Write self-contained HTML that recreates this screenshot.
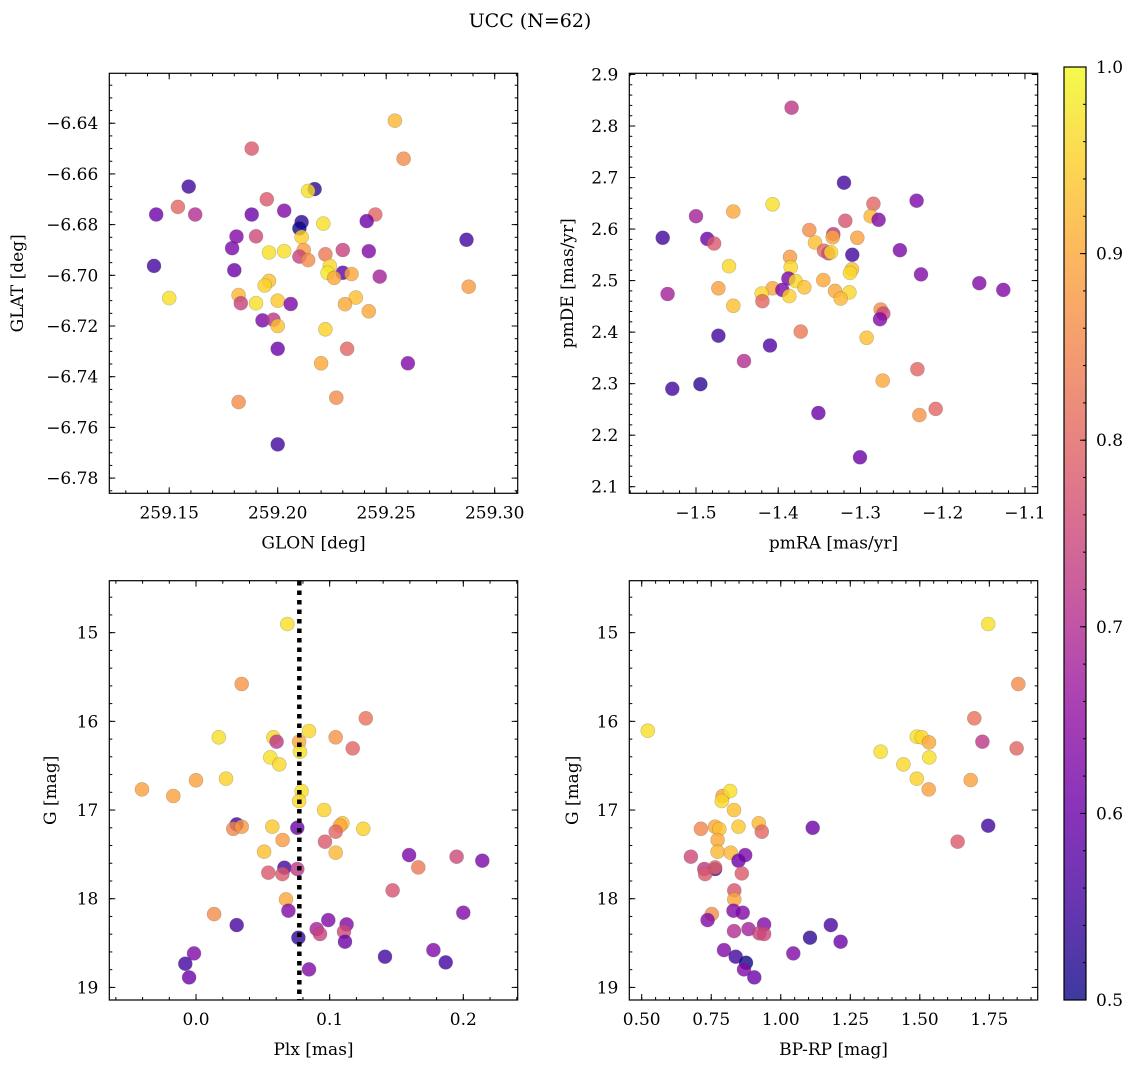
<!DOCTYPE html>
<html><head><meta charset="utf-8"><style>
html,body{margin:0;padding:0;background:#fff;}
svg{display:block;font-family:"DejaVu Serif","Liberation Serif",serif;}
</style></head><body>
<svg id="fig" width="1136" height="1067" viewBox="0 0 1136 1067" xmlns="http://www.w3.org/2000/svg">
<rect width="1136" height="1067" fill="#fff"/>
<text x="530" y="27" font-size="19" text-anchor="middle">UCC (N=62)</text>
<defs>
<linearGradient id="cbgrad" x1="0" y1="1" x2="0" y2="0">
<stop offset="0" stop-color="#0d0887"/><stop offset="0.1" stop-color="#41049d"/><stop offset="0.2" stop-color="#6a00a8"/><stop offset="0.3" stop-color="#8f0da4"/><stop offset="0.4" stop-color="#b12a90"/><stop offset="0.5" stop-color="#cc4778"/><stop offset="0.6" stop-color="#e16462"/><stop offset="0.7" stop-color="#f2844b"/><stop offset="0.8" stop-color="#fca636"/><stop offset="0.9" stop-color="#fcce25"/><stop offset="1" stop-color="#f0f921"/>
</linearGradient>
</defs>
</svg>
<script>
// ---- Top-left: GLON / GLAT ----
const tlLon=[259.254,259.258,259.188,259.159,259.217,259.214,259.154,259.144,259.162,259.188,259.195,259.203,259.245,259.241,259.221,259.211,259.210,259.211,259.181,259.190,259.287,259.179,259.196,259.203,259.212,259.210,259.214,259.222,259.230,259.242,259.143,259.180,259.224,259.223,259.230,259.226,259.234,259.247,259.196,259.194,259.288,259.150,259.182,259.183,259.190,259.200,259.206,259.236,259.231,259.242,259.193,259.198,259.200,259.222,259.200,259.232,259.220,259.260,259.182,259.227,259.200];
const tlLat=[-6.639,-6.654,-6.650,-6.665,-6.666,-6.6667,-6.673,-6.676,-6.676,-6.676,-6.670,-6.6745,-6.676,-6.6786,-6.6796,-6.679,-6.6815,-6.6849,-6.6847,-6.6846,-6.686,-6.6893,-6.691,-6.6905,-6.690,-6.6926,-6.694,-6.6917,-6.690,-6.6905,-6.6963,-6.698,-6.6963,-6.699,-6.699,-6.701,-6.6995,-6.7005,-6.7022,-6.704,-6.7045,-6.709,-6.7078,-6.711,-6.711,-6.710,-6.7113,-6.7088,-6.7114,-6.7142,-6.7178,-6.7175,-6.720,-6.7213,-6.729,-6.729,-6.7347,-6.7347,-6.750,-6.7483,-6.7667];
const tlProb=[0.92,0.86,0.78,0.55,0.53,0.97,0.80,0.60,0.70,0.60,0.78,0.63,0.80,0.60,0.97,0.53,0.50,0.95,0.63,0.75,0.55,0.62,0.97,0.97,0.88,0.74,0.86,0.83,0.74,0.63,0.55,0.60,0.96,0.98,0.58,0.90,0.90,0.68,0.93,0.95,0.88,0.97,0.92,0.74,0.97,0.94,0.62,0.93,0.90,0.90,0.62,0.72,0.93,0.95,0.60,0.80,0.90,0.63,0.86,0.86,0.55];
const tlXTicks=[259.15,259.20,259.25,259.30];
const tlXLabels=["259.15","259.20","259.25","259.30"];
const tlYTicks=[-6.64,-6.66,-6.68,-6.70,-6.72,-6.74,-6.76,-6.78];
const tlYLabels=["−6.64","−6.66","−6.68","−6.70","−6.72","−6.74","−6.76","−6.78"];

// ---- Top-right: pmRA / pmDE ----
const trRA=[-1.3837,-1.32,-1.2317,-1.4068,-1.4546,-1.5,-1.2843,-1.2876,-1.278,-1.3184,-1.5405,-1.4862,-1.478,-1.3622,-1.333,-1.3338,-1.3038,-1.3553,-1.3443,-1.339,-1.3358,-1.31,-1.252,-1.3857,-1.4599,-1.3849,-1.3103,-1.3127,-1.2264,-1.3877,-1.3788,-1.3452,-1.1555,-1.1263,-1.5345,-1.4728,-1.4068,-1.395,-1.4201,-1.3683,-1.331,-1.3135,-1.3865,-1.3241,-1.4193,-1.4546,-1.2754,-1.2722,-1.2762,-1.4728,-1.3727,-1.2925,-1.41,-1.4416,-1.2308,-1.273,-1.4947,-1.5288,-1.2085,-1.2284,-1.3512,-1.3006];
const trDE=[2.8356,2.690,2.655,2.648,2.634,2.625,2.649,2.625,2.618,2.616,2.583,2.581,2.572,2.598,2.590,2.584,2.583,2.574,2.558,2.553,2.555,2.550,2.559,2.546,2.528,2.526,2.522,2.515,2.512,2.504,2.499,2.501,2.495,2.482,2.474,2.485,2.485,2.482,2.475,2.487,2.480,2.477,2.470,2.465,2.460,2.451,2.444,2.436,2.425,2.393,2.401,2.389,2.374,2.344,2.328,2.306,2.299,2.290,2.251,2.239,2.243,2.157];
const trProb=[0.72,0.55,0.62,0.97,0.90,0.68,0.80,0.92,0.63,0.77,0.55,0.60,0.78,0.86,0.72,0.90,0.89,0.93,0.80,0.75,0.96,0.55,0.62,0.88,0.96,0.96,0.93,0.96,0.63,0.62,0.96,0.90,0.63,0.63,0.68,0.89,0.90,0.62,0.96,0.93,0.90,0.96,0.95,0.92,0.80,0.93,0.86,0.75,0.63,0.55,0.83,0.93,0.57,0.70,0.80,0.90,0.53,0.55,0.80,0.87,0.60,0.60];
const trXTicks=[-1.5,-1.4,-1.3,-1.2,-1.1];
const trXLabels=["−1.5","−1.4","−1.3","−1.2","−1.1"];
const trYTicks=[2.1,2.2,2.3,2.4,2.5,2.6,2.7,2.8,2.9];
const trYLabels=["2.1","2.2","2.3","2.4","2.5","2.6","2.7","2.8","2.9"];

// ---- Bottom-left: Plx / G ----
const blPlx=[0.0683,0.0342,0.127,0.017,0.0579,0.0603,0.0845,0.0771,0.0778,0.1045,0.1172,0.0556,0.0623,-0.0404,-0.017,0.0,0.0224,0.079,0.0771,0.0958,0.0304,0.0279,0.0342,0.0571,0.0758,0.1095,0.1077,0.1045,0.1252,0.0648,0.0965,0.0509,0.1045,0.1594,0.195,0.2142,0.1663,0.0661,0.0758,0.0541,0.0646,0.1471,0.0673,0.0691,0.0135,0.2,0.0304,0.099,0.1127,0.0903,0.0928,0.1107,0.1115,0.0766,-0.0015,-0.008,-0.0052,0.1414,0.1776,0.1868,0.0845];
const blG=[14.902,15.579,15.966,16.18,16.18,16.229,16.109,16.229,16.342,16.18,16.305,16.406,16.485,16.767,16.842,16.665,16.647,16.786,16.898,17.0,17.162,17.211,17.188,17.188,17.2,17.15,17.177,17.244,17.211,17.338,17.357,17.47,17.481,17.508,17.526,17.571,17.647,17.65,17.665,17.707,17.722,17.906,18.008,18.135,18.173,18.158,18.297,18.241,18.289,18.342,18.398,18.372,18.485,18.44,18.617,18.733,18.887,18.654,18.579,18.718,18.797];
const blProb=[0.97,0.87,0.82,0.97,0.96,0.72,0.96,0.90,0.97,0.87,0.80,0.97,0.96,0.89,0.89,0.89,0.95,0.97,0.96,0.95,0.55,0.85,0.88,0.94,0.60,0.93,0.90,0.80,0.95,0.88,0.78,0.93,0.92,0.62,0.75,0.62,0.83,0.55,0.72,0.78,0.78,0.77,0.90,0.63,0.86,0.63,0.56,0.63,0.63,0.68,0.74,0.75,0.60,0.53,0.63,0.55,0.60,0.55,0.63,0.55,0.63];
const blPlxMean=[0.0773];
const blXTicks=[0.0,0.1,0.2];
const blXLabels=["0.0","0.1","0.2"];
const gTicks=[15,16,17,18,19];
const gLabels=["15","16","17","18","19"];

// ---- Bottom-right: BP-RP / G ----
const brBPRP=[1.746,1.854,1.696,0.522,1.489,1.507,1.533,1.725,1.848,1.359,1.534,1.441,1.489,1.532,1.683,0.791,0.818,0.788,0.832,1.746,1.115,0.713,0.764,0.779,0.848,0.921,0.932,0.773,1.636,0.773,0.82,0.872,0.677,0.848,0.725,0.764,0.764,0.728,0.86,0.833,0.833,0.83,0.752,0.863,0.737,0.94,1.18,0.884,0.832,0.923,0.94,1.105,1.215,0.796,1.045,0.838,0.875,0.868,0.905];
const brG=[14.902,15.579,15.966,16.105,16.173,16.18,16.237,16.229,16.305,16.342,16.406,16.485,16.647,16.767,16.662,16.842,16.786,16.898,17.0,17.177,17.2,17.211,17.188,17.215,17.188,17.15,17.244,17.338,17.357,17.47,17.481,17.508,17.526,17.571,17.665,17.665,17.647,17.722,17.714,17.906,18.008,18.135,18.173,18.158,18.241,18.289,18.297,18.342,18.365,18.39,18.398,18.44,18.485,18.579,18.617,18.654,18.722,18.797,18.887];
const brProb=[0.97,0.86,0.82,0.97,0.97,0.96,0.90,0.72,0.80,0.97,0.97,0.96,0.95,0.89,0.89,0.89,0.97,0.96,0.93,0.55,0.60,0.85,0.90,0.93,0.94,0.92,0.80,0.90,0.78,0.92,0.92,0.62,0.75,0.60,0.72,0.55,0.80,0.78,0.78,0.77,0.90,0.63,0.86,0.63,0.63,0.63,0.56,0.68,0.70,0.74,0.75,0.53,0.60,0.63,0.63,0.55,0.50,0.63,0.60];
const brXTicks=[0.50,0.75,1.00,1.25,1.50,1.75];
const brXLabels=["0.50","0.75","1.00","1.25","1.50","1.75"];

const cbTicks=[0.5,0.6,0.7,0.8,0.9,1.0];
const cbLabels=["0.5","0.6","0.7","0.8","0.9","1.0"];

const NS="http://www.w3.org/2000/svg";
const svg=document.getElementById('fig');
function mk(tag,attrs,parent){const e=document.createElementNS(NS,tag);for(const k in attrs)e.setAttribute(k,attrs[k]);(parent||svg).appendChild(e);return e;}

const STOPS=["#0d0887","#41049d","#6a00a8","#8f0da4","#b12a90","#cc4778","#e16462","#f2844b","#fca636","#fcce25","#f0f921"];
function hex(h){return [parseInt(h.substr(1,2),16),parseInt(h.substr(3,2),16),parseInt(h.substr(5,2),16)];}
function plasma(p){let t=(p-0.5)/0.5;t=Math.max(0,Math.min(1,t));const f=t*10;const i=Math.min(9,Math.floor(f));const r=f-i;const a=hex(STOPS[i]),b=hex(STOPS[i+1]);return "rgb("+a.map((v,k)=>Math.round(v+(b[k]-v)*r)).join(",")+")";}

const TFS=17, AFS=17;
function panel(name,box,xd,yd,xs,ys,probs,xT,xL,yT,yL,xMinor,yMinor,xTitle,yTitle,yTitleX,yInvert){
  const g=mk('g',{});
  
  
  const sx=v=>box.x0+(v-xd[0])/(xd[1]-xd[0])*(box.x1-box.x0);
  const sy=yInvert?(v=>box.y0+(v-yd[1])/(yd[0]-yd[1])*(box.y1-box.y0)):(v=>box.y1-(v-yd[0])/(yd[1]-yd[0])*(box.y1-box.y0));
  const pg=mk('g',{},g);
  
  
  for(let i=0;i<xs.length;i++){
    const c=mk('circle',{cx:sx(xs[i]).toFixed(1),cy:sy(ys[i]).toFixed(1),r:7,fill:plasma(probs[i]),'fill-opacity':0.8,stroke:'#555','stroke-opacity':0.35,'stroke-width':0.6},pg);
    
    
  }
  const fr=mk('rect',{x:box.x0,y:box.y0,width:box.x1-box.x0,height:box.y1-box.y0,fill:'none',stroke:'#000','stroke-width':1.2},g);
  
  
  const tk=mk('g',{stroke:'#000','stroke-width':1},g);
  
  
  const lo=Math.min(xd[0],xd[1]),hi=Math.max(xd[0],xd[1]);
  for(let k=Math.ceil(lo/xMinor-1e-6);k<=Math.floor(hi/xMinor+1e-6);k++){const x=sx(k*xMinor);mk('line',{x1:x,x2:x,y1:box.y1,y2:box.y1-3},tk);mk('line',{x1:x,x2:x,y1:box.y0,y2:box.y0+3},tk);}
  for(let k=Math.ceil(Math.min(yd[0],yd[1])/yMinor-1e-6);k<=Math.floor(Math.max(yd[0],yd[1])/yMinor+1e-6);k++){const y=sy(k*yMinor);mk('line',{x1:box.x0,x2:box.x0+3,y1:y,y2:y},tk);mk('line',{x1:box.x1,x2:box.x1-3,y1:y,y2:y},tk);}
  xT.forEach((v,i)=>{const x=sx(v);mk('line',{x1:x,x2:x,y1:box.y1,y2:box.y1-6},tk);mk('line',{x1:x,x2:x,y1:box.y0,y2:box.y0+6},tk);
    const t=mk('text',{x:x,y:box.y1+25,'font-size':TFS,'text-anchor':'middle'},g);t.textContent=xL[i];
    
    });
  yT.forEach((v,i)=>{const y=sy(v);mk('line',{x1:box.x0,x2:box.x0+6,y1:y,y2:y},tk);mk('line',{x1:box.x1,x2:box.x1-6,y1:y,y2:y},tk);
    const t=mk('text',{x:box.x0-11,y:y+6,'font-size':TFS,'text-anchor':'end'},g);t.textContent=yL[i];
    
    });
  const xt=mk('text',{x:(box.x0+box.x1)/2,y:box.y1+55,'font-size':AFS,'text-anchor':'middle'},g);xt.textContent=xTitle;
  
  
  const cy=(box.y0+box.y1)/2;
  const yt=mk('text',{x:yTitleX,y:cy,'font-size':AFS,'text-anchor':'middle',transform:'rotate(-90 '+yTitleX+' '+cy+')'},g);yt.textContent=yTitle;
  
  
  return {sx,sy,g};
}

panel('glon-glat-panel',{x0:109.3,x1:517.7,y0:73.3,y1:493.3},[259.1224,259.3106],[-6.786,-6.6203],tlLon,tlLat,tlProb,tlXTicks,tlXLabels,tlYTicks,tlYLabels,0.01,0.005,'GLON [deg]','GLAT [deg]',23,false);
panel('pm-panel',{x0:629.3,x1:1037.7,y0:73.3,y1:493.3},[-1.5811,-1.0845],[2.0872,2.9023],trRA,trDE,trProb,trXTicks,trXLabels,trYTicks,trYLabels,0.02,0.02,'pmRA [mas/yr]','pmDE [mas/yr]',573,false);
const bl=panel('plx-g-panel',{x0:109.3,x1:517.7,y0:580.7,y1:1000},[-0.0649,0.2407],[19.142,14.414],blPlx,blG,blProb,blXTicks,blXLabels,gTicks,gLabels,0.02,0.2,'Plx [mas]','G [mag]',56,true);
panel('cmd-panel',{x0:629.3,x1:1037.7,y0:580.7,y1:1000},[0.4554,1.9239],[19.142,14.414],brBPRP,brG,brProb,brXTicks,brXLabels,gTicks,gLabels,0.05,0.2,'BP-RP [mag]','G [mag]',578,true);

blPlxMean.forEach(v=>{const x=bl.sx(v);
  const ln=mk('line',{x1:x,x2:x,y1:581,y2:1000,stroke:'#000','stroke-width':4.5,'stroke-dasharray':'4.5 5'});
  
  });

const cb=mk('g',{});


const CB={x0:1064,x1:1086,y0:67,y1:1000};
mk('rect',{x:CB.x0,y:CB.y0,width:CB.x1-CB.x0,height:CB.y1-CB.y0,fill:'url(#cbgrad)','fill-opacity':0.8},cb);
mk('rect',{x:CB.x0,y:CB.y0,width:CB.x1-CB.x0,height:CB.y1-CB.y0,fill:'none',stroke:'#000','stroke-width':1.2},cb);
const cby=v=>CB.y1-(v-0.5)/0.5*(CB.y1-CB.y0);
for(let k=25;k<=50;k++){const y=cby(k*0.02);mk('line',{x1:CB.x1,x2:CB.x1-3,y1:y,y2:y,stroke:'#000'},cb);}
cbTicks.forEach((v,i)=>{const y=cby(v);mk('line',{x1:CB.x1,x2:CB.x1-6,y1:y,y2:y,stroke:'#000'},cb);
  const t=mk('text',{x:CB.x1+10,y:y+6,'font-size':TFS},cb);t.textContent=cbLabels[i];
  
  });
</script>
</body></html>
